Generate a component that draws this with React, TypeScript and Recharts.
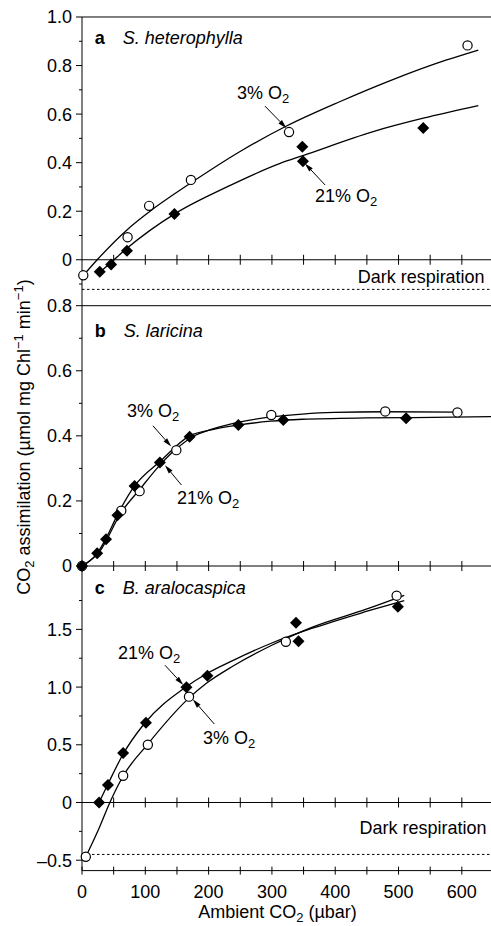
import React from "react";
import { ComposedChart, Line, Scatter, XAxis, YAxis, ReferenceLine, ReferenceDot } from "recharts";

const FONT = "'Liberation Sans', Arial, Helvetica, sans-serif";

// ---------- Panel a: S. heterophylla ----------
const aOpen = [
  { x: 2, y: -0.064 }, { x: 72, y: 0.093 }, { x: 106, y: 0.222 }, { x: 172, y: 0.329 },
  { x: 327, y: 0.526 }, { x: 609, y: 0.883 },
];
const aFilled = [
  { x: 28, y: -0.049 }, { x: 46, y: -0.019 }, { x: 71, y: 0.037 }, { x: 146, y: 0.189 },
  { x: 348, y: 0.466 }, { x: 349, y: 0.406 }, { x: 539, y: 0.543 },
];
const aFit3 = [
  { x: 2, y: -0.065 }, { x: 24, y: 0 }, { x: 71, y: 0.123 }, { x: 105, y: 0.195 },
  { x: 174, y: 0.32 }, { x: 249, y: 0.445 }, { x: 323, y: 0.551 }, { x: 407, y: 0.651 },
  { x: 486, y: 0.737 }, { x: 576, y: 0.823 }, { x: 626, y: 0.864 },
];
const aFit21 = [
  { x: 29, y: -0.049 }, { x: 45, y: -0.013 }, { x: 71, y: 0.047 }, { x: 147, y: 0.19 },
  { x: 229, y: 0.3 }, { x: 313, y: 0.397 }, { x: 350, y: 0.43 }, { x: 460, y: 0.528 },
  { x: 539, y: 0.583 }, { x: 626, y: 0.635 },
];

// ---------- Panel b: S. laricina ----------
const bOpen = [
  { x: 0, y: 0 }, { x: 62, y: 0.17 }, { x: 91, y: 0.23 }, { x: 149, y: 0.356 },
  { x: 299, y: 0.464 }, { x: 479, y: 0.475 }, { x: 593, y: 0.472 },
];
const bFilled = [
  { x: 0, y: 0 }, { x: 24, y: 0.039 }, { x: 38, y: 0.082 }, { x: 56, y: 0.156 },
  { x: 83, y: 0.246 }, { x: 123, y: 0.318 }, { x: 170, y: 0.397 }, { x: 247, y: 0.433 },
  { x: 318, y: 0.449 }, { x: 512, y: 0.454 },
];
const bFit3 = [
  { x: 0, y: 0 }, { x: 28, y: 0.045 }, { x: 62, y: 0.165 }, { x: 91, y: 0.235 },
  { x: 123, y: 0.31 }, { x: 149, y: 0.36 }, { x: 173, y: 0.395 }, { x: 208, y: 0.422 },
  { x: 248, y: 0.442 }, { x: 298, y: 0.458 }, { x: 348, y: 0.467 }, { x: 398, y: 0.472 },
  { x: 478, y: 0.474 }, { x: 593, y: 0.473 },
];
const bFit21 = [
  { x: 0, y: 0 }, { x: 24, y: 0.039 }, { x: 38, y: 0.085 }, { x: 56, y: 0.157 },
  { x: 83, y: 0.246 }, { x: 123, y: 0.321 }, { x: 170, y: 0.4 }, { x: 208, y: 0.42 },
  { x: 247, y: 0.433 }, { x: 298, y: 0.445 }, { x: 348, y: 0.451 }, { x: 448, y: 0.455 },
  { x: 512, y: 0.456 }, { x: 650, y: 0.459 },
];

// ---------- Panel c: B. aralocaspica ----------
const cOpen = [
  { x: 6, y: -0.47 }, { x: 65, y: 0.232 }, { x: 104, y: 0.5 }, { x: 169, y: 0.917 },
  { x: 322, y: 1.393 }, { x: 497, y: 1.792 },
];
const cFilled = [
  { x: 27, y: 0 }, { x: 41, y: 0.152 }, { x: 65, y: 0.429 }, { x: 101, y: 0.692 },
  { x: 165, y: 0.998 }, { x: 198, y: 1.099 }, { x: 338, y: 1.558 }, { x: 342, y: 1.397 },
  { x: 499, y: 1.697 },
];
const cFit21 = [
  { x: 27, y: 0 }, { x: 41, y: 0.16 }, { x: 65, y: 0.42 }, { x: 98, y: 0.68 },
  { x: 164, y: 1.0 }, { x: 198, y: 1.12 }, { x: 238, y: 1.23 }, { x: 299, y: 1.38 },
  { x: 364, y: 1.51 }, { x: 449, y: 1.655 }, { x: 509, y: 1.75 },
];
const cFit3 = [
  { x: 6, y: -0.47 }, { x: 28, y: -0.21 }, { x: 44, y: 0 }, { x: 65, y: 0.23 },
  { x: 103, y: 0.5 }, { x: 168, y: 0.9 }, { x: 197, y: 1.035 }, { x: 238, y: 1.18 },
  { x: 299, y: 1.36 }, { x: 364, y: 1.52 }, { x: 449, y: 1.675 }, { x: 509, y: 1.795 },
];

// ---------- axes ----------
const xTicks = [0, 50, 100, 150, 200, 250, 300, 350, 400, 450, 500, 550, 600];
const xInnerTicks = [50, 100, 150, 200, 250, 300, 350, 400, 450, 500, 550, 600];
const xLabels: Record<string, string> = { "0": "0", "100": "100", "200": "200", "300": "300", "400": "400", "500": "500", "600": "600" };

const aYTicks = [-0.1, 0, 0.1, 0.2, 0.3, 0.4, 0.5, 0.6, 0.7, 0.8, 0.9, 1.0];
const aYLabels: Record<string, string> = { "0.00": "0", "0.20": "0.2", "0.40": "0.4", "0.60": "0.6", "0.80": "0.8", "1.00": "1.0" };
const bYTicks = [0, 0.1, 0.2, 0.3, 0.4, 0.5, 0.6, 0.7, 0.8];
const bYLabels: Record<string, string> = { "0.00": "0", "0.20": "0.2", "0.40": "0.4", "0.60": "0.6", "0.80": "0.8" };
const cYTicks = [-0.5, -0.25, 0, 0.25, 0.5, 0.75, 1.0, 1.25, 1.5, 1.75];
const cYLabels: Record<string, string> = { "-0.50": "\u20130.5", "0.00": "0", "0.50": "0.5", "1.00": "1.0", "1.50": "1.5" };

// ---------- annotations (data coordinates) ----------
const aNotes = [
  { x: 245, y: 0.661, text: "3% O", sub: "2" },
  { x: 368, y: 0.239, text: "21% O", sub: "2" },
];
const aArrows = [
  { x1: 289, y1: 0.633, x2: 323, y2: 0.542 },
  { x1: 384, y1: 0.308, x2: 352, y2: 0.397 },
];
const bNotes = [
  { x: 71, y: 0.457, text: "3% O", sub: "2" },
  { x: 150, y: 0.19, text: "21% O", sub: "2" },
];
const bArrows = [
  { x1: 112, y1: 0.431, x2: 141, y2: 0.367 },
  { x1: 157, y1: 0.249, x2: 131, y2: 0.31 },
];
const cNotes = [
  { x: 57, y: 1.241, text: "21% O", sub: "2" },
  { x: 191, y: 0.507, text: "3% O", sub: "2" },
];
const cArrows = [
  { x1: 131, y1: 1.19, x2: 160, y2: 1.018 },
  { x1: 209, y1: 0.68, x2: 175, y2: 0.894 },
];

const W = 500;
const PLOT_LEFT = 82;
const MARGIN_RIGHT = 6.5;

const key2 = (v: number) => (Math.abs(v) < 1e-9 ? 0 : v).toFixed(2);

const makeYTick = (labels: Record<string, string>) => (props: any) => {
  const { x, y, payload } = props;
  const lab = labels[key2(payload.value)];
  const major = lab !== undefined;
  return (
    <g>
      <line x1={x} x2={x - (major ? 6 : 3)} y1={y} y2={y} stroke="#000" strokeWidth={1} />
      {major && (
        <text x={x - 10} y={y} dy="0.36em" textAnchor="end" fontSize={18} fontFamily={FONT} fill="#000">
          {lab}
        </text>
      )}
    </g>
  );
};

const XTick = (props: any) => {
  const { x, y, payload } = props;
  const lab = xLabels[String(payload.value)];
  return (
    <g>
      <line x1={x} x2={x} y1={y - 4} y2={y + 4} stroke="#000" strokeWidth={1} />
      {lab !== undefined && (
        <text x={x} y={y + 27} textAnchor="middle" fontSize={18} fontFamily={FONT} fill="#000">
          {lab}
        </text>
      )}
    </g>
  );
};

const innerTickShape = (p: any) => (
  <line x1={p.cx} x2={p.cx} y1={p.cy - 5} y2={p.cy + 5} stroke="#000" strokeWidth={1} />
);

const openShape = (p: any) => (
  <circle cx={p.cx} cy={p.cy} r={4.6} fill="#fff" stroke="#000" strokeWidth={1.2} />
);
const diamondShape = (p: any) => {
  const s = 6;
  return (
    <polygon
      points={`${p.cx},${p.cy - s} ${p.cx + s},${p.cy} ${p.cx},${p.cy + s} ${p.cx - s},${p.cy}`}
      fill="#000"
    />
  );
};

const arrowShape = (p: any) => {
  const { x1, y1, x2, y2 } = p;
  const dx = x2 - x1;
  const dy = y2 - y1;
  const len = Math.hypot(dx, dy) || 1;
  const ux = dx / len;
  const uy = dy / len;
  const hl = 9;
  const hw = 2.4;
  const bx = x2 - ux * hl;
  const by = y2 - uy * hl;
  return (
    <g>
      <line x1={x1} y1={y1} x2={bx} y2={by} stroke="#000" strokeWidth={1} />
      <polygon
        points={`${x2},${y2} ${bx - uy * hw},${by + ux * hw} ${bx + uy * hw},${by - ux * hw}`}
        fill="#000"
      />
    </g>
  );
};

const noteShape = (text: string, sub: string) => (p: any) => (
  <text x={p.cx} y={p.cy} fontSize={18} fontFamily={FONT} fill="#000">
    {text}
    <tspan fontSize={13} dy={4}>{sub}</tspan>
  </text>
);

const titleShape = (letter: string, name: string) => (p: any) => (
  <text x={p.cx} y={p.cy} fontSize={18} fontFamily={FONT} fill="#000">
    <tspan fontWeight="bold">{letter}</tspan>
    <tspan dx={18} fontStyle="italic">{name}</tspan>
  </text>
);

const darkShape = (p: any) => (
  <text x={p.cx} y={p.cy} fontSize={18} fontFamily={FONT} fill="#000" textAnchor="end">
    Dark respiration
  </text>
);

type PanelProps = {
  top: number;
  marginTop: number;
  plotH: number;
  domain: [number, number];
  yTicks: number[];
  yLabels: Record<string, string>;
  open: { x: number; y: number }[];
  filled: { x: number; y: number }[];
  fit3: { x: number; y: number }[];
  fit21: { x: number; y: number }[];
  notes: { x: number; y: number; text: string; sub: string }[];
  arrows: { x1: number; y1: number; x2: number; y2: number }[];
  letter: string;
  name: string;
  titleY: number;
  topLine?: number;
  dark?: { x: number; y: number; line: number };
  bottomAxis?: boolean;
};

function Panel(props: PanelProps) {
  const axisH = props.bottomAxis ? 45 : 0;
  const mb = props.bottomAxis ? 0 : 16;
  const height = props.marginTop + props.plotH + axisH + mb;
  return (
    <div style={{ position: "absolute", left: 0, top: props.top }}>
      <ComposedChart
        width={W}
        height={height}
        margin={{ top: props.marginTop, right: MARGIN_RIGHT, bottom: mb, left: 0 }}
      >
        <XAxis
          type="number"
          dataKey="x"
          domain={[0, 650]}
          ticks={xTicks}
          interval={0}
          hide={!props.bottomAxis}
          height={axisH}
          tickSize={0}
          tickMargin={0}
          tickLine={false}
          tick={<XTick />}
          axisLine={{ stroke: "#000", strokeWidth: 1 }}
        />
        <YAxis
          type="number"
          dataKey="y"
          domain={props.domain}
          ticks={props.yTicks}
          interval={0}
          width={PLOT_LEFT}
          tickSize={0}
          tickMargin={0}
          tickLine={false}
          tick={makeYTick(props.yLabels)}
          axisLine={{ stroke: "#000", strokeWidth: 1 }}
        />
        {props.topLine !== undefined && (
          <ReferenceLine y={props.topLine} stroke="#000" strokeWidth={1} ifOverflow="visible" />
        )}
        <ReferenceLine y={0} stroke="#000" strokeWidth={1} />
        {xInnerTicks.map((t) => (
          <ReferenceDot key={"it" + t} x={t} y={0} r={0} shape={innerTickShape} />
        ))}
        {props.dark && (
          <ReferenceLine y={props.dark.line} stroke="#000" strokeWidth={1} strokeDasharray="2.5 2.5" />
        )}
        {props.dark && (
          <ReferenceDot x={props.dark.x} y={props.dark.y} r={0} shape={darkShape} />
        )}
        <ReferenceDot x={20} y={props.titleY} r={0} shape={titleShape(props.letter, props.name)} />
        <Line
          data={props.fit3}
          dataKey="y"
          type="monotone"
          stroke="#000"
          strokeWidth={1.3}
          dot={false}
          activeDot={false}
          isAnimationActive={false}
        />
        <Line
          data={props.fit21}
          dataKey="y"
          type="monotone"
          stroke="#000"
          strokeWidth={1.3}
          dot={false}
          activeDot={false}
          isAnimationActive={false}
        />
        {props.arrows.map((a, i) => (
          <ReferenceLine
            key={"ar" + i}
            segment={[{ x: a.x1, y: a.y1 }, { x: a.x2, y: a.y2 }]}
            shape={arrowShape}
            ifOverflow="visible"
          />
        ))}
        {props.notes.map((n, i) => (
          <ReferenceDot key={"nt" + i} x={n.x} y={n.y} r={0} shape={noteShape(n.text, n.sub)} />
        ))}
        <Scatter data={props.open} shape={openShape} isAnimationActive={false} />
        <Scatter data={props.filled} shape={diamondShape} isAnimationActive={false} />
      </ComposedChart>
    </div>
  );
}

export default function App() {
  return (
    <div
      style={{
        position: "absolute",
        left: 0,
        top: 0,
        width: 491,
        height: 926,
        overflow: "hidden",
        background: "#fff",
      }}
    >
      <Panel
        top={0}
        marginTop={17}
        plotH={288.9}
        domain={[-0.19, 1.0]}
        yTicks={aYTicks}
        yLabels={aYLabels}
        open={aOpen}
        filled={aFilled}
        fit3={aFit3}
        fit21={aFit21}
        notes={aNotes}
        arrows={aArrows}
        letter="a"
        name="S. heterophylla"
        titleY={0.889}
        topLine={1.0}
        dark={{ x: 636, y: -0.094, line: -0.122 }}
      />
      <Panel
        top={290}
        marginTop={15.7}
        plotH={260.3}
        domain={[0, 0.8]}
        yTicks={bYTicks}
        yLabels={bYLabels}
        open={bOpen}
        filled={bFilled}
        fit3={bFit3}
        fit21={bFit21}
        notes={bNotes}
        arrows={bArrows}
        letter="b"
        name="S. laricina"
        titleY={0.704}
        topLine={0.8}
      />
      <Panel
        top={545}
        marginTop={20.9}
        plotH={304.7}
        domain={[-0.59, 2.05]}
        yTicks={cYTicks}
        yLabels={cYLabels}
        open={cOpen}
        filled={cFilled}
        fit3={cFit3}
        fit21={cFit21}
        notes={cNotes}
        arrows={cArrows}
        letter="c"
        name="B. aralocaspica"
        titleY={1.806}
        dark={{ x: 639, y: -0.276, line: -0.45 }}
        bottomAxis
      />
      <svg
        width={491}
        height={926}
        style={{ position: "absolute", left: 0, top: 0, pointerEvents: "none" }}
      >
        <text
          transform="translate(30,437) rotate(-90)"
          textAnchor="middle"
          fontSize={18}
          fontFamily={FONT}
          fill="#000"
        >
          CO<tspan fontSize={13} dy={4}>2</tspan>
          <tspan dy={-4}> assimilation (µmol mg Chl</tspan>
          <tspan fontSize={13} dy={-7}>{"\u22121"}</tspan>
          <tspan dy={7}> min</tspan>
          <tspan fontSize={13} dy={-7}>{"\u22121"}</tspan>
          <tspan dy={7}>)</tspan>
        </text>
        <text x={277.5} y={918} textAnchor="middle" fontSize={18} fontFamily={FONT} fill="#000">
          Ambient CO<tspan fontSize={13} dy={4}>2</tspan>
          <tspan dy={-4}> (µbar)</tspan>
        </text>
      </svg>
    </div>
  );
}
